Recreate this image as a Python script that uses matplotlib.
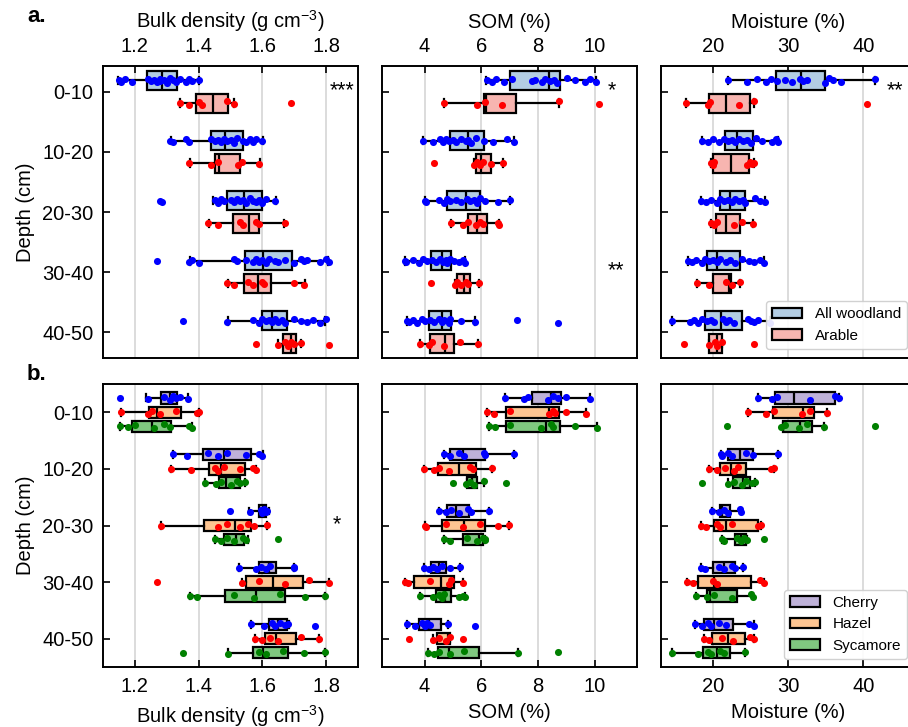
import matplotlib
matplotlib.use("Agg")
import matplotlib.pyplot as plt
from matplotlib.patches import Patch

plt.rcParams['font.family'] = ['Liberation Sans', 'DejaVu Sans']
plt.rcParams['mathtext.fontset'] = 'custom'
plt.rcParams['mathtext.rm'] = 'Liberation Sans'
plt.rcParams['mathtext.it'] = 'Liberation Sans:italic'
plt.rcParams['mathtext.bf'] = 'Liberation Sans:bold'

# ---------------- data ----------------
depths = ['0-10', '10-20', '20-30', '30-40', '40-50']
xlabels = [r'Bulk density (g cm$^{-3}$)', 'SOM (%)', 'Moisture (%)']
xticks = [[1.2, 1.4, 1.6, 1.8], [4, 6, 8, 10], [20, 30, 40]]
xlims = [(1.1, 1.9), (2.5, 11.5), (13.1, 47.0)]

groups_a = ['All woodland', 'Arable']
groups_b = ['Cherry', 'Hazel', 'Sycamore']

# stats per depth: [whisker low, q1, median, q3, whisker high]
BD_WOOD_STATS = [[1.148, 1.238, 1.285, 1.331, 1.401], [1.313, 1.440, 1.482, 1.539, 1.601],
                 [1.445, 1.490, 1.543, 1.600, 1.643], [1.372, 1.544, 1.601, 1.693, 1.807],
                 [1.492, 1.598, 1.630, 1.676, 1.797]]
BD_WOOD_PTS = [[1.15, 1.155, 1.17, 1.19, 1.24, 1.25, 1.26, 1.27, 1.28, 1.28, 1.29, 1.30, 1.31, 1.32, 1.33, 1.34, 1.36, 1.37, 1.38, 1.40],
               [1.31, 1.32, 1.36, 1.37, 1.44, 1.45, 1.46, 1.47, 1.48, 1.49, 1.50, 1.51, 1.52, 1.54, 1.55, 1.56, 1.57, 1.58, 1.60],
               [1.28, 1.285, 1.45, 1.46, 1.47, 1.48, 1.50, 1.51, 1.52, 1.53, 1.54, 1.55, 1.56, 1.57, 1.58, 1.59, 1.60, 1.61, 1.64],
               [1.27, 1.37, 1.38, 1.40, 1.51, 1.52, 1.55, 1.57, 1.58, 1.59, 1.60, 1.61, 1.62, 1.64, 1.65, 1.67, 1.70, 1.72, 1.73, 1.74, 1.78, 1.80, 1.81],
               [1.35, 1.49, 1.57, 1.59, 1.60, 1.61, 1.62, 1.63, 1.64, 1.65, 1.66, 1.67, 1.70, 1.72, 1.74, 1.76, 1.78, 1.80]]
BD_ARAB_STATS = [[1.342, 1.392, 1.446, 1.493, 1.510], [1.374, 1.451, 1.463, 1.529, 1.592],
                 [1.431, 1.508, 1.557, 1.588, 1.669], [1.492, 1.542, 1.585, 1.628, 1.734],
                 [1.649, 1.665, 1.690, 1.705, 1.720]]
BD_ARAB_PTS = [[1.34, 1.37, 1.40, 1.41, 1.49, 1.51, 1.69],
               [1.37, 1.44, 1.46, 1.525, 1.535, 1.59],
               [1.43, 1.46, 1.53, 1.54, 1.58, 1.59, 1.67],
               [1.49, 1.51, 1.555, 1.57, 1.60, 1.605, 1.70, 1.73],
               [1.58, 1.65, 1.67, 1.68, 1.69, 1.70, 1.72, 1.81]]

SOM_WOOD_STATS = [[6.17, 7.01, 8.41, 8.79, 10.06], [3.95, 4.91, 5.54, 6.11, 7.15],
                  [4.00, 4.81, 5.45, 5.97, 7.00], [3.31, 4.22, 4.63, 4.92, 5.44],
                  [3.38, 4.16, 4.63, 4.94, 5.77]]
SOM_WOOD_PTS = [[6.2, 6.38, 6.54, 6.8, 7.1, 7.8, 7.9, 8.15, 8.26, 8.44, 8.56, 8.68, 9.03, 9.32, 9.68, 9.85, 10.06],
                [3.95, 4.30, 4.55, 4.65, 4.75, 4.85, 5.0, 5.1, 5.3, 5.45, 5.55, 5.65, 5.8, 6.1, 6.4, 6.9, 7.15],
                [4.0, 4.05, 4.5, 4.7, 4.8, 4.9, 5.1, 5.3, 5.5, 5.6, 5.75, 5.85, 5.95, 6.15, 6.6, 7.0],
                [3.31, 3.35, 3.6, 3.8, 3.95, 4.1, 4.25, 4.4, 4.55, 4.65, 4.75, 4.8, 4.9, 5.05, 5.2, 5.35, 5.44],
                [3.38, 3.45, 3.6, 3.75, 3.9, 4.0, 4.2, 4.35, 4.5, 4.6, 4.7, 4.85, 4.9, 5.3, 5.77, 7.26, 8.71]]
SOM_ARAB_STATS = [[4.68, 6.11, 6.17, 7.22, 8.76], [5.74, 5.81, 5.99, 6.35, 6.76],
                  [4.92, 5.52, 5.85, 6.21, 6.62], [5.09, 5.14, 5.38, 5.62, 5.92],
                  [3.85, 4.19, 4.72, 5.05, 5.88]]
SOM_ARAB_PTS = [[4.68, 5.85, 6.15, 6.75, 8.76, 10.16],
                [4.32, 5.75, 5.85, 5.95, 6.05, 6.35, 6.76],
                [4.92, 5.35, 5.55, 5.8, 5.95, 6.05, 6.6, 6.62],
                [4.24, 5.09, 5.15, 5.3, 5.45, 5.55, 5.92],
                [3.85, 4.15, 4.25, 4.7, 5.25, 5.88]]

MOIST_WOOD_STATS = [[21.95, 28.45, 31.77, 34.87, 41.6], [18.6, 21.6, 23.2, 25.3, 28.67],
                    [18.45, 20.93, 22.21, 24.3, 26.86], [16.68, 19.2, 20.53, 23.54, 26.8],
                    [14.56, 18.9, 21.1, 23.85, 27.6]]
MOIST_WOOD_PTS = [[21.95, 24.5, 25.9, 27.0, 27.7, 28.5, 29.6, 30.5, 31.6, 32.0, 32.5, 34.9, 35.5, 36.0, 37.0, 41.6],
                  [18.6, 19.3, 20.0, 20.8, 21.5, 22.0, 22.5, 23.0, 23.5, 24.0, 24.5, 25.0, 25.7, 26.5, 27.8, 28.4, 28.67],
                  [18.45, 19.1, 19.7, 20.5, 21.0, 21.5, 22.0, 22.5, 23.0, 23.5, 24.0, 24.3, 25.6, 26.3, 26.86],
                  [16.68, 17.2, 17.8, 18.5, 19.0, 19.5, 20.0, 20.5, 21.0, 21.8, 22.3, 23.0, 23.9, 24.8, 25.5, 26.3, 26.8],
                  [14.56, 16.9, 17.5, 18.0, 18.5, 19.2, 19.7, 20.1, 21.3, 21.8, 22.2, 22.8, 24.6, 25.0, 25.5, 26.0, 27.6]]
MOIST_ARAB_STATS = [[16.4, 19.47, 21.77, 24.96, 25.4], [19.78, 20.04, 22.39, 24.82, 25.5],
                    [19.73, 20.4, 21.73, 23.63, 25.27], [17.88, 20.0, 22.17, 22.39, 23.54],
                    [19.5, 19.5, 20.58, 21.15, 21.2]]
MOIST_ARAB_PTS = [[16.4, 19.3, 19.6, 23.5, 25.4, 40.5],
                  [19.78, 20.0, 20.1, 24.5, 24.9, 25.2, 25.5],
                  [19.73, 20.2, 20.5, 22.8, 23.9, 25.27],
                  [17.88, 19.5, 21.8, 22.5, 23.54],
                  [16.1, 19.5, 20.3, 20.6, 21.2, 25.4]]

BD_CHERRY_STATS = [[1.236, 1.282, 1.309, 1.331, 1.367], [1.320, 1.415, 1.479, 1.564, 1.603],
                   [1.559, 1.590, 1.601, 1.611, 1.622], [1.526, 1.589, 1.620, 1.643, 1.700],
                   [1.565, 1.620, 1.648, 1.678, 1.682]]
BD_CHERRY_PTS = [[1.152, 1.24, 1.29, 1.31, 1.32, 1.33, 1.34, 1.367],
                 [1.32, 1.365, 1.43, 1.46, 1.49, 1.55, 1.59, 1.60],
                 [1.497, 1.56, 1.595, 1.60, 1.605, 1.61, 1.615],
                 [1.526, 1.58, 1.595, 1.61, 1.625, 1.70, 1.70],
                 [1.565, 1.605, 1.63, 1.64, 1.655, 1.67, 1.68, 1.766]]
BD_HAZEL_STATS = [[1.156, 1.245, 1.268, 1.346, 1.401], [1.313, 1.431, 1.471, 1.546, 1.580],
                  [1.283, 1.418, 1.515, 1.563, 1.615], [1.536, 1.549, 1.634, 1.728, 1.809],
                  [1.577, 1.608, 1.643, 1.707, 1.778]]
BD_HAZEL_PTS = [[1.156, 1.24, 1.255, 1.28, 1.33, 1.395, 1.40],
                [1.313, 1.375, 1.45, 1.46, 1.48, 1.53, 1.57, 1.58],
                [1.283, 1.46, 1.49, 1.53, 1.555, 1.575, 1.615],
                [1.27, 1.536, 1.59, 1.67, 1.745, 1.809],
                [1.577, 1.60, 1.625, 1.65, 1.72, 1.778]]
BD_SYC_STATS = [[1.153, 1.190, 1.255, 1.313, 1.379], [1.420, 1.465, 1.486, 1.529, 1.546],
                [1.450, 1.481, 1.518, 1.542, 1.554], [1.374, 1.482, 1.580, 1.671, 1.797],
                [1.493, 1.572, 1.601, 1.681, 1.797]]
BD_SYC_PTS = [[1.153, 1.18, 1.20, 1.26, 1.29, 1.31, 1.37, 1.379],
              [1.42, 1.455, 1.47, 1.50, 1.52, 1.53, 1.545],
              [1.45, 1.47, 1.49, 1.51, 1.54, 1.55, 1.648],
              [1.374, 1.395, 1.51, 1.575, 1.655, 1.735, 1.797],
              [1.351, 1.493, 1.59, 1.61, 1.665, 1.73, 1.797]]

SOM_CHERRY_STATS = [[6.85, 7.78, 8.48, 8.82, 9.85], [4.70, 4.89, 5.36, 6.12, 7.15],
                    [4.51, 4.79, 5.12, 5.58, 6.28], [3.99, 4.24, 4.50, 4.77, 5.26],
                    [3.38, 3.82, 4.17, 4.57, 4.83]]
SOM_CHERRY_PTS = [[6.85, 7.5, 7.65, 8.35, 8.55, 8.7, 9.0, 9.85],
                  [4.7, 4.9, 5.2, 5.4, 6.1, 6.12, 7.15],
                  [4.51, 4.75, 4.95, 5.2, 5.55, 5.65, 6.28],
                  [3.99, 4.15, 4.3, 4.45, 4.6, 4.9, 5.26],
                  [3.38, 3.65, 3.9, 4.0, 4.1, 4.2, 4.83, 5.79]]
SOM_HAZEL_STATS = [[6.20, 6.89, 8.41, 8.74, 9.71], [3.97, 4.49, 5.22, 5.81, 6.39],
                   [4.00, 4.61, 5.38, 6.12, 6.99], [3.32, 3.64, 4.57, 5.03, 5.36],
                   [4.29, 4.43, 4.82, 4.91, 4.91]]
SOM_HAZEL_PTS = [[6.2, 6.45, 7.0, 8.4, 8.55, 8.6, 9.0, 9.71],
                 [3.97, 4.35, 4.5, 4.85, 5.6, 5.7, 6.39],
                 [4.0, 4.05, 4.75, 5.35, 5.95, 6.6, 6.99],
                 [3.32, 3.4, 4.2, 4.85, 4.95, 5.36],
                 [3.45, 4.3, 4.5, 4.75, 4.9, 5.37]]
SOM_SYC_STATS = [[6.29, 6.89, 8.30, 8.79, 10.08], [5.49, 5.49, 5.68, 5.86, 6.09],
                 [4.70, 5.35, 5.91, 6.05, 6.15], [3.83, 4.42, 4.74, 4.94, 5.44],
                 [4.11, 4.46, 4.88, 5.91, 7.30]]
SOM_SYC_PTS = [[6.29, 6.5, 7.0, 8.1, 8.45, 8.55, 9.3, 10.08],
               [4.99, 5.45, 5.6, 5.75, 6.09, 6.89],
               [4.7, 4.9, 5.5, 5.85, 6.05, 6.12, 6.15],
               [3.83, 4.3, 4.5, 4.6, 4.7, 5.2, 5.35, 5.44],
               [4.11, 4.35, 4.5, 4.9, 5.4, 7.3, 8.72]]

MOIST_CHERRY_STATS = [[26.06, 28.32, 30.84, 36.24, 36.8], [21.06, 21.95, 23.54, 25.31, 28.67],
                      [19.87, 20.97, 21.19, 22.30, 23.76], [18.36, 20.00, 21.50, 22.96, 23.94],
                      [17.57, 18.76, 20.09, 22.61, 25.40]]
MOIST_CHERRY_PTS = [[26.06, 27.8, 28.5, 32.9, 36.2, 36.8],
                    [21.06, 21.2, 22.0, 22.6, 24.4, 25.3, 28.67],
                    [19.87, 20.8, 21.5, 22.0, 23.6, 23.76],
                    [18.36, 19.0, 20.8, 21.5, 22.5, 23.0, 23.94],
                    [17.57, 18.5, 19.3, 19.7, 20.8, 21.8, 24.8, 25.4]]
MOIST_HAZEL_STATS = [[24.6, 27.96, 31.95, 33.5, 35.2], [19.51, 20.88, 22.35, 24.42, 28.14],
                     [18.45, 20.09, 21.73, 26.06, 26.46], [16.55, 17.96, 20.09, 25.04, 26.73],
                     [18.85, 19.87, 21.95, 24.29, 25.4]]
MOIST_HAZEL_PTS = [[24.6, 27.0, 28.1, 31.8, 32.9, 35.2],
                   [19.51, 20.5, 21.6, 22.8, 23.3, 27.7, 28.14],
                   [18.45, 19.1, 20.5, 20.9, 22.5, 26.0, 26.46],
                   [16.55, 17.4, 20.0, 20.5, 26.3, 26.73],
                   [18.85, 19.5, 21.2, 22.7, 24.9, 25.4]]
MOIST_SYC_STATS = [[29.38, 29.38, 31.6, 33.14, 34.73], [21.95, 22.65, 23.94, 24.87, 25.62],
                   [21.19, 22.96, 23.76, 24.42, 24.5], [17.79, 19.2, 19.56, 23.19, 25.31],
                   [14.56, 18.67, 20.53, 22.3, 24.25]]
MOIST_SYC_PTS = [[21.86, 29.0, 29.6, 31.5, 32.5, 34.73, 41.55],
                 [18.58, 21.95, 22.8, 23.9, 24.4, 25.2, 25.62],
                 [21.19, 21.5, 23.2, 23.7, 24.1, 24.5, 26.81],
                 [17.79, 19.2, 20.2, 22.6, 25.0, 25.31],
                 [14.56, 18.0, 19.3, 19.8, 21.0, 21.5, 24.25]]

# significance annotations: (row, col, x, depth index, text)
SIG = [(0, 0, 1.85, 0, '***'), (0, 1, 10.6, 0, '*'), (0, 1, 10.75, 3, '**'),
       (0, 2, 44.2, 0, '**'), (1, 0, 1.835, 2, '*')]

# ---------------- style ----------------
COL_A = ['#b3cde3', '#f7b5b0']
PT_A = ['blue', 'red']
COL_B = ['#beb1d8', '#fdc592', '#80c880']
PT_B = ['blue', 'red', 'green']
JIT = [0.0, 0.022, -0.018, 0.032, -0.03, 0.01, -0.008, 0.026, -0.024, 0.015, -0.012, 0.035, -0.035]

rows = [
    {'groups': groups_a, 'fill': COL_A, 'pts_col': PT_A, 'offsets': [-0.19, 0.19], 'width': 0.31,
     'cap': 0.13, 'ylim': (4.43, -0.43),
     'stats': [[BD_WOOD_STATS, BD_ARAB_STATS], [SOM_WOOD_STATS, SOM_ARAB_STATS],
               [MOIST_WOOD_STATS, MOIST_ARAB_STATS]],
     'pts': [[BD_WOOD_PTS, BD_ARAB_PTS], [SOM_WOOD_PTS, SOM_ARAB_PTS],
             [MOIST_WOOD_PTS, MOIST_ARAB_PTS]]},
    {'groups': groups_b, 'fill': COL_B, 'pts_col': PT_B, 'offsets': [-0.255, 0.0, 0.245], 'width': 0.2,
     'cap': 0.12, 'ylim': (4.5, -0.5),
     'stats': [[BD_CHERRY_STATS, BD_HAZEL_STATS, BD_SYC_STATS],
               [SOM_CHERRY_STATS, SOM_HAZEL_STATS, SOM_SYC_STATS],
               [MOIST_CHERRY_STATS, MOIST_HAZEL_STATS, MOIST_SYC_STATS]],
     'pts': [[BD_CHERRY_PTS, BD_HAZEL_PTS, BD_SYC_PTS],
             [SOM_CHERRY_PTS, SOM_HAZEL_PTS, SOM_SYC_PTS],
             [MOIST_CHERRY_PTS, MOIST_HAZEL_PTS, MOIST_SYC_PTS]]},
]

W, H = 908, 727
fig = plt.figure(figsize=(W / 100, H / 100), dpi=100)
lefts = [103, 382, 661]
axw = 255
row_tb = [(66, 358), (384, 667)]

FS = 14.5
for r, row in enumerate(rows):
    top, bot = row_tb[r]
    for c in range(3):
        ax = fig.add_axes([lefts[c] / W, 1 - bot / H, axw / W, (bot - top) / H])
        ax.set_axisbelow(True)
        ax.grid(axis='x', color='#d6d6d6', lw=1.2, zorder=0)
        for g, gname in enumerate(row['groups']):
            stats = row['stats'][c][g]
            bxstats = [{'whislo': s[0], 'q1': s[1], 'med': s[2], 'q3': s[3], 'whishi': s[4],
                        'fliers': []} for s in stats]
            pos = [i + row['offsets'][g] for i in range(len(depths))]
            ax.bxp(bxstats, positions=pos, widths=row['width'], orientation='horizontal',
                   patch_artist=True, showfliers=False, capwidths=row['cap'],
                   boxprops=dict(facecolor=row['fill'][g], edgecolor='black', linewidth=1.6),
                   medianprops=dict(color='black', linewidth=1.6),
                   whiskerprops=dict(color='black', linewidth=1.6),
                   capprops=dict(color='black', linewidth=1.6), zorder=2)
            for i, vals in enumerate(row['pts'][c][g]):
                ys = [pos[i] + JIT[k % len(JIT)] for k in range(len(vals))]
                ax.scatter(vals, ys, s=26, color=row['pts_col'][g], linewidths=0, zorder=4)
        ax.set_xlim(*xlims[c])
        ax.set_ylim(*row['ylim'])
        ax.set_xticks(xticks[c])
        ax.set_yticks(range(len(depths)))
        if c == 0:
            ax.set_yticklabels(depths, fontsize=FS)
            ax.set_ylabel('Depth (cm)', fontsize=FS, labelpad=5)
        else:
            ax.set_yticklabels([])
        ax.tick_params(direction='in', length=5, width=1.2, pad=7, labelsize=FS)
        if r == 0:
            ax.xaxis.tick_top()
            ax.xaxis.set_label_position('top')
            ax.set_xlabel(xlabels[c], fontsize=FS, labelpad=7)
        else:
            ax.set_xlabel(xlabels[c], fontsize=FS, labelpad=5)
        ax.tick_params(axis='y', which='both', right=False)
        for sp in ax.spines.values():
            sp.set_linewidth(1.4)
        for (sr, sc, sx, sd, stxt) in SIG:
            if sr == r and sc == c:
                ax.text(sx, sd - 0.02, stxt, fontsize=FS + 1, ha='center', va='center', zorder=6)
        if c == 2:
            handles = [Patch(facecolor=row['fill'][g], edgecolor='black', linewidth=1.6,
                             label=gname) for g, gname in enumerate(row['groups'])]
            lb = 349 if r == 0 else 659
            ax.legend(handles=handles, loc='lower right', fontsize=11,
                      bbox_to_anchor=(907 / W, 1 - lb / H), bbox_transform=fig.transFigure,
                      borderaxespad=0, framealpha=0.9, handletextpad=0.8)

fig.text(27 / W, 1 - 17 / H, 'a.', fontsize=16, fontweight='bold', ha='left', va='center')
fig.text(27 / W, 1 - 375 / H, 'b.', fontsize=16, fontweight='bold', ha='left', va='center')

fig.savefig('out.png', dpi=100)
